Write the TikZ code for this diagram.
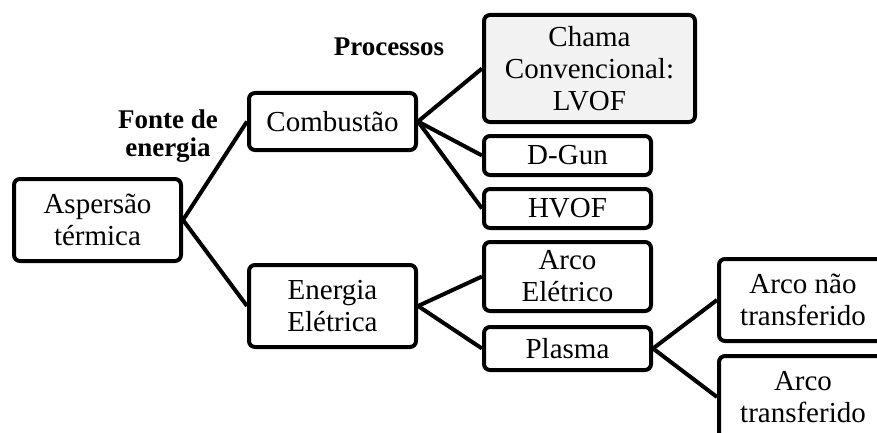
\documentclass[tikz,border=0pt]{standalone}
\usepackage{fontspec}
\setmainfont{Liberation Serif}
\usetikzlibrary{positioning}
\definecolor{cfill}{HTML}{F2F2F2}
\tikzset{
  every picture/.style={line width=4pt},
  box/.style={draw=black, fill=#1, rounded corners=6pt, align=center, inner sep=0pt,
    font=\fontsize{29}{32}\selectfont, minimum width=167pt},
  box/.default=white,
  link/.style={draw=black, line width=4pt},
  head/.style={font=\fontsize{27}{28}\selectfont\bfseries, align=center},
}
\begin{document}
\begin{tikzpicture}[x=1pt, y=-1pt]
  \useasboundingbox (0,0) rectangle (877,433);
  % root and energy sources
  \node[box, minimum height=82pt] (asp) at (97.5,220) {Aspersão\\térmica};
  \node[box, minimum height=57pt] (comb) at (332.5,121.5) {Combustão};
  \node[box, minimum height=82pt] (ener) at (332.5,306) {Energia\\Elétrica};
  \node[head] (fonte) at (168,136) {Fonte de\\energia};
  \node[head] (proc) at (389,47) {Processos};
  % processes
  \node[box=cfill, minimum width=211pt, minimum height=107pt] (chama) at (589.5,68.5) {Chama\\Convencional:\\LVOF};
  \node[box, minimum height=39pt] (dgun) at (567.5,155.5) {D-Gun};
  \node[box, minimum height=39pt] (hvof) at (567.5,208.5) {HVOF};
  \node[box, minimum height=69pt] (arco) at (567.5,276.5) {Arco\\Elétrico};
  \node[box, minimum height=43pt] (plasma) at (567.5,348.5) {Plasma};
  % plasma variants
  \node[box, minimum width=168pt, minimum height=82pt] (naotr) at (803,300) {Arco não\\transferido};
  \node[box, minimum width=168pt, minimum height=82pt] (transf) at (803,397) {Arco\\transferido};
  % connectors
  \foreach \a/\b in {asp/comb, asp/ener, comb/chama, comb/dgun, comb/hvof,
                     ener/arco, ener/plasma, plasma/naotr, plasma/transf} {
    \draw[link] (\a.east) -- (\b.west);
  }
\end{tikzpicture}
\end{document}
